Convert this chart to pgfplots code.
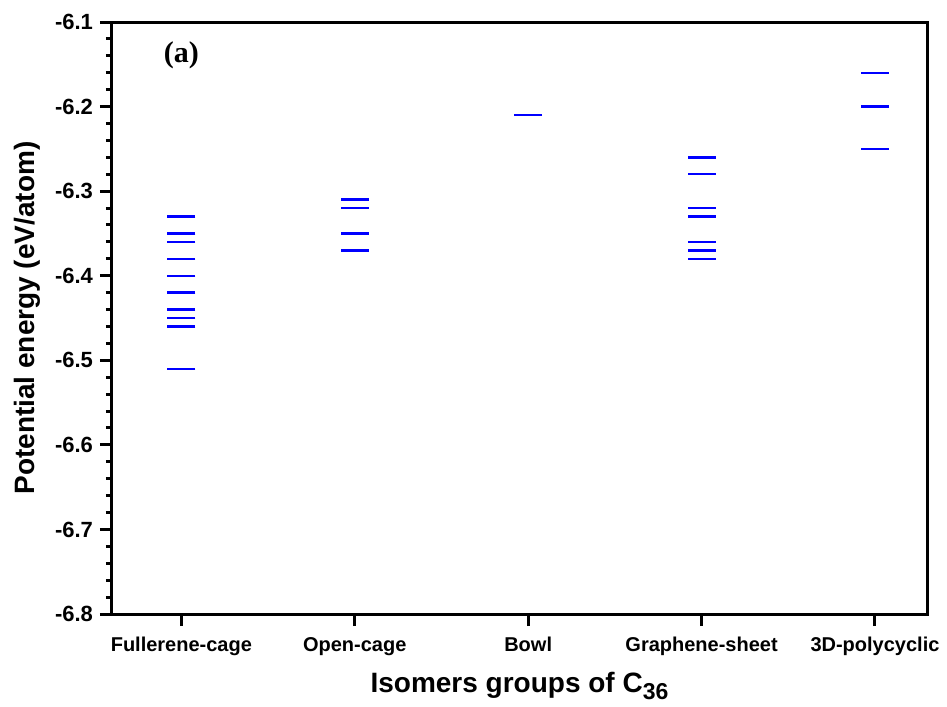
\documentclass[border=0pt]{standalone}
\usepackage{pgfplots}
\pgfplotsset{compat=1.18}
\usepackage{fontspec}
\setmainfont{Liberation Sans}
\newfontfamily\timesfont{Liberation Serif}
\begin{document}
\begin{tikzpicture}
\begin{axis}[
  at={(0,0)}, anchor=south west,
  width=407.5pt, height=296pt, scale only axis,
  xmin=-0.40, xmax=4.30, ymin=-6.8, ymax=-6.1,
  axis line style={line width=1.5pt},
  xtick={0,1,2,3,4},
  xticklabels={Fullerene-cage,Open-cage,Bowl,Graphene-sheet,3D-polycyclic},
  ytick={-6.8,-6.7,-6.6,-6.5,-6.4,-6.3,-6.2,-6.1},
  yticklabels={-6.8,-6.7,-6.6,-6.5,-6.4,-6.3,-6.2,-6.1},
  minor y tick num=4,
  tick align=outside,
  xtick pos=bottom, ytick pos=left,
  major tick length=6pt, minor tick length=3pt,
  every tick/.style={line width=1.5pt, black},
  every minor tick/.style={line width=1.5pt, black},
  xticklabel style={font=\fontsize{10}{11}\selectfont\bfseries, yshift=-2pt},
  yticklabel style={font=\fontsize{11}{12}\selectfont\bfseries},
  xlabel={Isomers groups of C\raisebox{-0.45ex}{\fontsize{11.5}{12}\selectfont 36}},
  ylabel={Potential energy (eV/atom)},
  label style={font=\fontsize{14}{16}\selectfont\bfseries},
  xlabel style={at={(axis description cs:0.5,-0.133)}, anchor=base},
  ylabel style={at={(axis description cs:-0.104,0.5)}, anchor=center},
  clip=false,
]
\addplot[only marks, mark=-, mark size=7pt, blue, mark options={line width=1.2pt}] coordinates {
(0,-6.33) (0,-6.35) (0,-6.36) (0,-6.38) (0,-6.40) (0,-6.42) (0,-6.44) (0,-6.45) (0,-6.46) (0,-6.51)
(1,-6.31) (1,-6.32) (1,-6.35) (1,-6.37)
(2,-6.21)
(3,-6.26) (3,-6.28) (3,-6.32) (3,-6.33) (3,-6.36) (3,-6.37) (3,-6.38)
(4,-6.16) (4,-6.20) (4,-6.25)
};
\node[font=\timesfont\fontsize{15}{16}\selectfont\bfseries] at (axis cs:0,-6.139) {(a)};
\end{axis}
\useasboundingbox (-56pt,-45pt) rectangle (417.5pt,307pt);
\end{tikzpicture}
\end{document}
